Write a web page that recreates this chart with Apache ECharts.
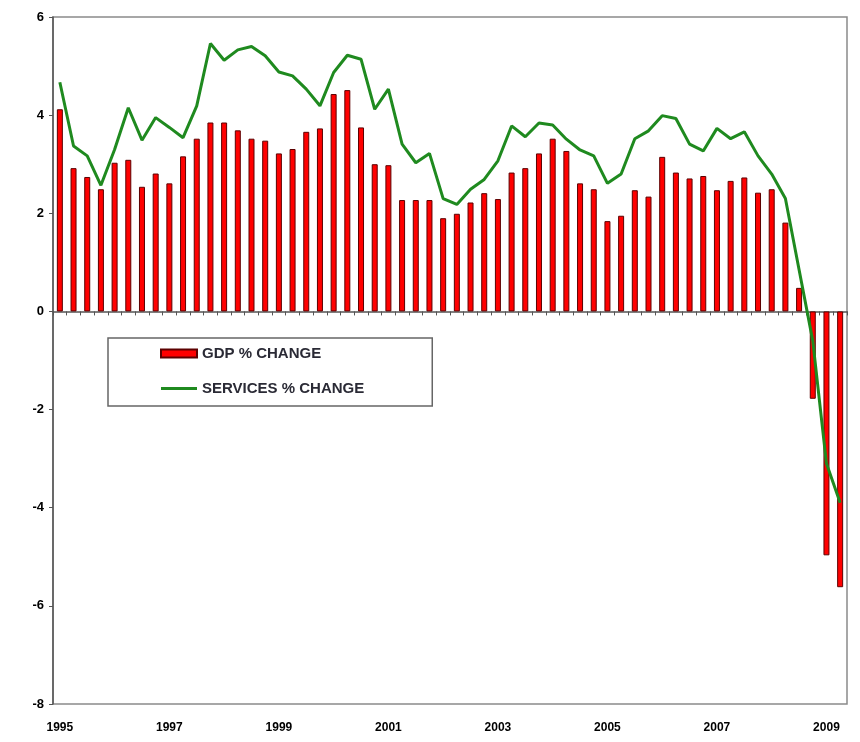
<!DOCTYPE html>
<html>
<head>
<meta charset="utf-8">
<script src="https://cdn.jsdelivr.net/npm/echarts@6/dist/echarts.min.js"></script>
<style>
  html, body { margin: 0; padding: 0; background: #fff; }
  #gdp_services_chart { width: 860px; height: 742px; }
</style>
</head>
<body>
<div id="gdp_services_chart"></div>
<script>
// 季度分类
const quarters = [
  '1995Q1', '1995Q2', '1995Q3', '1995Q4', '1996Q1', '1996Q2', '1996Q3', '1996Q4',
  '1997Q1', '1997Q2', '1997Q3', '1997Q4', '1998Q1', '1998Q2', '1998Q3', '1998Q4',
  '1999Q1', '1999Q2', '1999Q3', '1999Q4', '2000Q1', '2000Q2', '2000Q3', '2000Q4',
  '2001Q1', '2001Q2', '2001Q3', '2001Q4', '2002Q1', '2002Q2', '2002Q3', '2002Q4',
  '2003Q1', '2003Q2', '2003Q3', '2003Q4', '2004Q1', '2004Q2', '2004Q3', '2004Q4',
  '2005Q1', '2005Q2', '2005Q3', '2005Q4', '2006Q1', '2006Q2', '2006Q3', '2006Q4',
  '2007Q1', '2007Q2', '2007Q3', '2007Q4', '2008Q1', '2008Q2', '2008Q3', '2008Q4',
  '2009Q1', '2009Q2'
]
// x轴显示的年份
const yearLabels = ['1995', '1997', '1999', '2001', '2003', '2005', '2007', '2009']

const gdpChange = [
  4.12, 2.92, 2.74, 2.49, 3.03, 3.09, 2.54, 2.81,
  2.61, 3.16, 3.52, 3.85, 3.85, 3.69, 3.52, 3.48,
  3.22, 3.31, 3.66, 3.73, 4.43, 4.51, 3.75, 3.00,
  2.98, 2.27, 2.27, 2.27, 1.90, 1.99, 2.22, 2.41,
  2.29, 2.83, 2.92, 3.22, 3.52, 3.27, 2.61, 2.49,
  1.84, 1.95, 2.47, 2.34, 3.15, 2.83, 2.71, 2.76,
  2.47, 2.66, 2.73, 2.42, 2.49, 1.81, 0.48, -1.78,
  -4.97, -5.62
]
const servicesChange = [
  4.67, 3.37, 3.17, 2.57, 3.30, 4.15, 3.49, 3.95,
  3.75, 3.54, 4.19, 5.46, 5.12, 5.33, 5.40, 5.21,
  4.88, 4.80, 4.53, 4.19, 4.87, 5.22, 5.14, 4.12,
  4.53, 3.41, 3.03, 3.22, 2.30, 2.18, 2.49, 2.69,
  3.07, 3.78, 3.56, 3.84, 3.80, 3.51, 3.29, 3.17,
  2.61, 2.80, 3.52, 3.68, 3.99, 3.93, 3.41, 3.27,
  3.73, 3.52, 3.66, 3.17, 2.80, 2.30, 0.85, -0.60,
  -3.10, -3.90
]

const font = '"Liberation Sans", Arial, sans-serif'
const myChart = echarts.init(document.getElementById('gdp_services_chart'))

const option = {
  animation: false,
  grid: {
    left: 53,
    right: 13,
    top: 17,
    bottom: 38,
    show: true,
    borderColor: '#8a8a8a',
    borderWidth: 1.5
  },
  legend: {
    orient: 'vertical',
    left: 108,
    top: 338,
    padding: [8, 68, 10, 52],
    itemGap: 20,
    itemWidth: 36,
    itemHeight: 8,
    borderColor: '#666',
    borderWidth: 1.5,
    textStyle: { fontFamily: font, fontWeight: 'bold', fontSize: 15, color: '#2a2a35' },
    data: [
      { name: 'GDP % CHANGE', icon: 'rect' },
      {
        name: 'SERVICES % CHANGE',
        icon: 'path://M0,0 L36,0 L36,3 L0,3 Z',
        itemStyle: { color: '#1f8a1f', borderWidth: 0 },
        lineStyle: { width: 0 }
      }
    ]
  },
  xAxis: [
    {
      type: 'category',
      data: quarters,
      axisLine: { onZero: true, lineStyle: { color: '#555', width: 1.5 } },
      axisTick: { show: true, interval: 0, length: 4, lineStyle: { color: '#555' } },
      axisLabel: { show: false },
      splitLine: { show: false }
    },
    {
      type: 'category',
      data: quarters,
      position: 'bottom',
      axisLine: { show: false, onZero: false },
      axisTick: { show: false },
      axisLabel: {
        interval: 7,
        margin: 18,
        fontFamily: font,
        fontWeight: 'bold',
        fontSize: 12,
        color: '#000',
        formatter: function (v) {
          const y = v.slice(0, 4)
          return yearLabels.indexOf(y) >= 0 ? y : ''
        }
      }
    }
  ],
  yAxis: {
    type: 'value',
    min: -8,
    max: 6,
    interval: 2,
    axisLine: { show: true, lineStyle: { color: '#555', width: 1.5 } },
    axisTick: { show: true, length: 4, lineStyle: { color: '#555' } },
    splitLine: { show: false },
    axisLabel: {
      margin: 9,
      fontFamily: font,
      fontWeight: 'bold',
      fontSize: 13,
      color: '#000'
    }
  },
  series: [
    {
      name: 'GDP % CHANGE',
      type: 'bar',
      xAxisIndex: 0,
      data: gdpChange,
      barWidth: 6,
      itemStyle: { color: '#ff0000', borderColor: '#5c0000', borderWidth: 1 }
    },
    {
      name: 'SERVICES % CHANGE',
      type: 'line',
      xAxisIndex: 0,
      data: servicesChange,
      symbol: 'none',
      lineStyle: { color: '#1f8a1f', width: 3 },
      itemStyle: { color: '#1f8a1f' }
    }
  ]
}

myChart.setOption(option)
</script>
</body>
</html>
